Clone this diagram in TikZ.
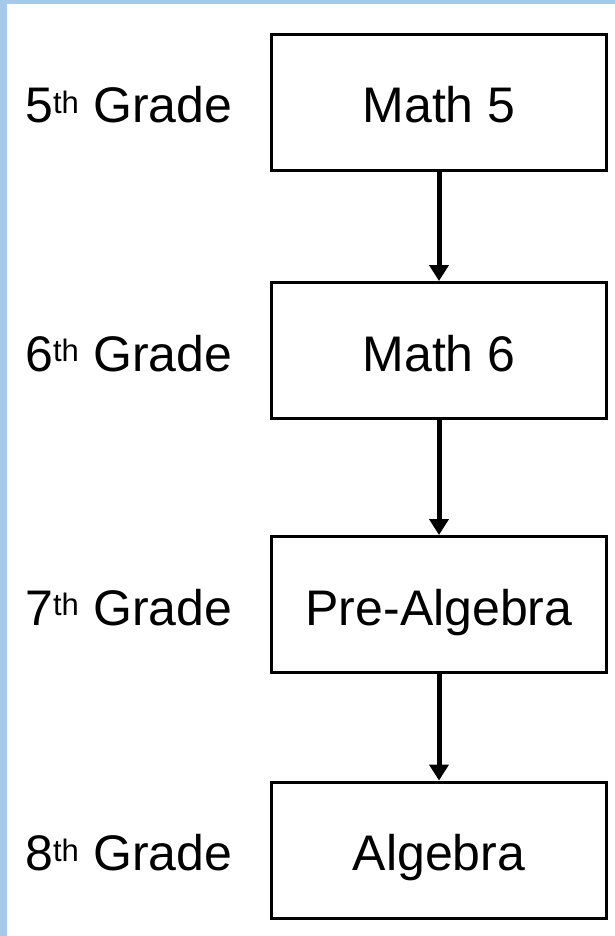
\documentclass[tikz,border=0pt]{standalone}
\usepackage{fontspec}
\setmainfont{Liberation Sans}
\usetikzlibrary{arrows.meta, positioning}
\definecolor{cFrame}{HTML}{A5C8EB}
\newcommand{\ordth}{\ensuremath{^{\mbox{\fontsize{31}{31}\selectfont th}}}}

\begin{document}
\begin{tikzpicture}[
    x=1pt, y=-1pt,
    % ---------------------------------------------------------
    % STYLES
    % ---------------------------------------------------------
    course/.style={
        rectangle,
        draw=black,
        fill=white,
        line width=3pt,
        minimum width=335pt,
        minimum height=136pt,
        inner sep=0pt,
        text height=41pt,
        text depth=0pt,
        font=\fontsize{50}{60}\selectfont
    },
    grade label/.style={
        anchor=base west,
        inner sep=0pt,
        font=\fontsize{50}{60}\selectfont
    },
    next course/.style={
        -{Triangle[width=19pt, length=16pt]},
        line width=5pt
    }
]

% ---------------------------------------------------------
% 1. FRAME
% ---------------------------------------------------------
\useasboundingbox (0, 0) rectangle (615, 936);
\fill[cFrame] (0, 0) rectangle (615, 936);
\fill[white] (7, 4) rectangle (615, 936);

% ---------------------------------------------------------
% 2. COURSES
% ---------------------------------------------------------
\node[course] (math5) at (439, 102.5) {Math 5};
\node[course] (math6) at (439, 350.5) {Math 6};
\node[course] (prealg) at (439, 604.5) {Pre-Algebra};
\node[course] (alg) at (439, 850) {Algebra};

% ---------------------------------------------------------
% 3. ARROWS
% ---------------------------------------------------------
\draw[next course] (math5) -- (math6);
\draw[next course] (math6) -- (prealg);
\draw[next course] (prealg) -- (alg);

% ---------------------------------------------------------
% 4. GRADES
% ---------------------------------------------------------
\node[grade label] (g5) at (25, 123) {5\ordth{} Grade};
\node[grade label] (g6) at (25, 371) {6\ordth{} Grade};
\node[grade label] (g7) at (25, 625) {7\ordth{} Grade};
\node[grade label] (g8) at (25, 870.5) {8\ordth{} Grade};

\end{tikzpicture}
\end{document}
